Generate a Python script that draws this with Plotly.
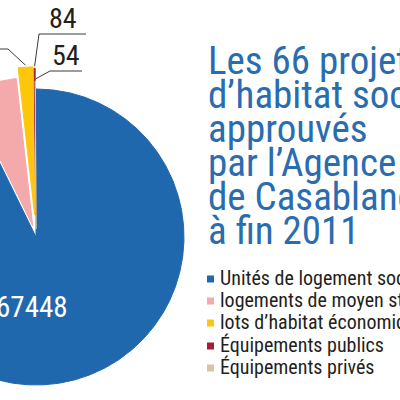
import numpy as np
import plotly.graph_objects as go

# data (pink and yellow labels are cut off, so those two are estimates)
categories = ["Unités de logement social", "logements de moyen standing",
              "lots d’habitat économique", "Équipements publics", "Équipements privés"]
values = [67448, 4000, 1150, 84, 54]
shown_labels = ["67448", "", "", "84", "54"]
title_lines = ["Les 66 projets", "d’habitat social", "approuvés",
               "par l’Agence urbaine", "de Casablanca", "à fin 2011"]

# styles
colors = ["#2068ae", "#f4a9ab", "#fec60b", "#a71d37", "#d6c6a4"]
pulls = [0.0, 0.08, 0.15, 0.14, 0.055]
FONT = "Roboto Condensed, Liberation Sans Narrow, sans-serif"
TXT = "#231f20"
BLUE_TXT = "#2a6cb0"

# pie geometry, in page pixels (y goes down)
cx, cy, R = 36, 237, 148

def pt(ox, oy, ang, r):
    # angle in degrees, clockwise from 12 o'clock
    a = np.radians(ang)
    return ox + r * np.sin(a), oy - r * np.cos(a)

fig = go.Figure()

vals = np.array(values, dtype=float)
ends = np.cumsum(vals) / vals.sum() * 360
starts = ends - vals / vals.sum() * 360
tips = []
for i in range(len(values)):
    a0, a1 = starts[i], ends[i]
    mid = (a0 + a1) / 2
    tx, ty = pt(cx, cy, mid, pulls[i] * R)
    tips.append((tx, ty, mid))
    n = max(3, int((a1 - a0) * 3))
    angs = np.linspace(a0, a1, n)
    ax, ay = pt(tx, ty, angs, R)
    xs = np.concatenate([[tx], ax, [tx]])
    ys = np.concatenate([[ty], ay, [ty]])
    fig.add_trace(go.Scatter(x=xs, y=ys, mode="lines", fill="toself",
                             fillcolor=colors[i], line=dict(color=colors[i], width=1),
                             hoverinfo="skip", name=categories[i]))

# label inside the big slice
fig.add_annotation(x=70, y=307, text=shown_labels[0], showarrow=False,
                   xanchor="right", yanchor="middle",
                   font=dict(family=FONT, size=29, color="white"))

# leader lines + outside labels: slice -> (elbow x, elbow y, line end x, text x)
elbows = {2: (8, 49, -40, None), 3: (39, 34, 86, 47), 4: (50, 71, 82, 50)}
for i, (ex, ey, hx, lx) in elbows.items():
    tx, ty, mid = tips[i]
    sx, sy = pt(tx, ty, mid, R + 2)
    fig.add_trace(go.Scatter(x=[hx, ex, sx], y=[ey, ey, sy], mode="lines",
                             line=dict(color="#3a3a3a", width=1), hoverinfo="skip"))
    if shown_labels[i]:
        fig.add_annotation(x=lx, y=ey + 3, text=shown_labels[i], showarrow=False,
                           xanchor="left", yanchor="bottom",
                           font=dict(family=FONT, size=28, color=TXT))

# title, one annotation per line to keep the tight leading
for k, line in enumerate(title_lines):
    fig.add_annotation(x=206, y=61 + 34 * k, text=line, showarrow=False,
                       xanchor="left", yanchor="middle",
                       font=dict(family=FONT, size=39, color=BLUE_TXT))

# hand-made legend
leg_y = [279, 301, 323, 346, 368]
fig.add_trace(go.Scatter(x=[210.5] * len(categories), y=leg_y, mode="markers",
                         marker=dict(symbol="square", size=7, color=colors, line=dict(width=0)),
                         hoverinfo="skip"))
for k, c in enumerate(categories):
    fig.add_annotation(x=218, y=leg_y[k] - 1, text=c, showarrow=False,
                       xanchor="left", yanchor="middle",
                       font=dict(family=FONT, size=20, color=TXT))

fig.update_layout(width=400, height=400, margin=dict(l=0, r=0, t=0, b=0),
                  paper_bgcolor="white", plot_bgcolor="white", showlegend=False,
                  xaxis=dict(range=[0, 400], visible=False, fixedrange=True),
                  yaxis=dict(range=[400, 0], visible=False, fixedrange=True))

# drop the page's default 8px body margin so the figure sits at the window corner
fig.write_html("out.html", config={"displayModeBar": False},
               post_script="document.body.style.margin='0';")
